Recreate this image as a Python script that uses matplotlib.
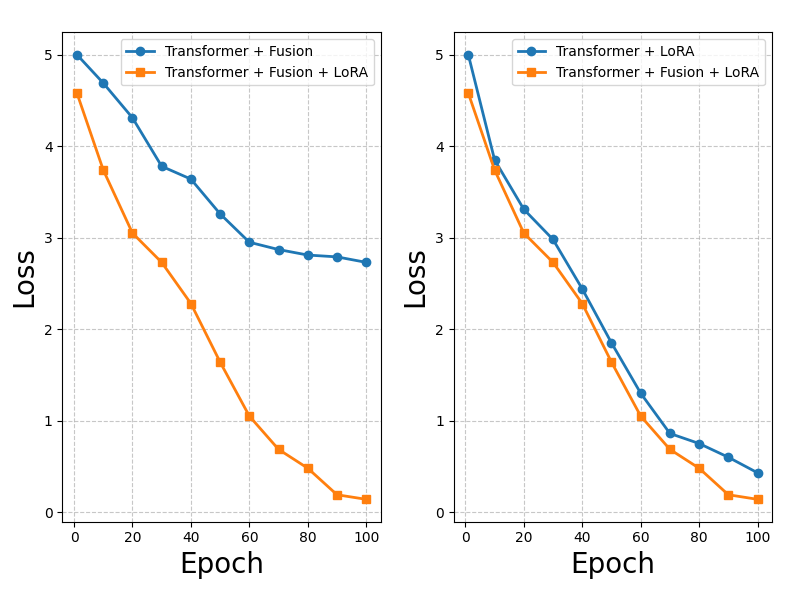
import matplotlib
matplotlib.use('Agg')
import matplotlib.pyplot as plt

# epochs
epochs = [1, 10, 20, 30, 40, 50, 60, 70, 80, 90, 100]

# loss curves
loss_fusion = [5.00, 4.69, 4.31, 3.78, 3.64, 3.26, 2.95, 2.87, 2.81, 2.79, 2.73]
loss_lora = [5.00, 3.85, 3.31, 2.98, 2.44, 1.85, 1.30, 0.86, 0.75, 0.60, 0.43]
loss_fusion_lora = [4.58, 3.74, 3.05, 2.73, 2.28, 1.64, 1.05, 0.686, 0.48, 0.19, 0.14]

fig, (ax1, ax2) = plt.subplots(1, 2, figsize=(7.91, 5.9), dpi=100)
fig.subplots_adjust(left=0.079, right=0.976, bottom=0.116, top=0.945, wspace=0.23)

ax1.plot(epochs, loss_fusion, marker='o', linewidth=2, label='Transformer + Fusion')
ax1.plot(epochs, loss_fusion_lora, marker='s', linewidth=2, label='Transformer + Fusion + LoRA')

ax2.plot(epochs, loss_lora, marker='o', linewidth=2, label='Transformer + LoRA')
ax2.plot(epochs, loss_fusion_lora, marker='s', linewidth=2, label='Transformer + Fusion + LoRA')

for ax in (ax1, ax2):
    ax.set_xlabel('Epoch', fontsize=20)
    ax.set_ylabel('Loss', fontsize=20)
    ax.grid(True, linestyle='--', alpha=0.7)
    ax.legend(loc='upper right')

fig.savefig('out.png')
